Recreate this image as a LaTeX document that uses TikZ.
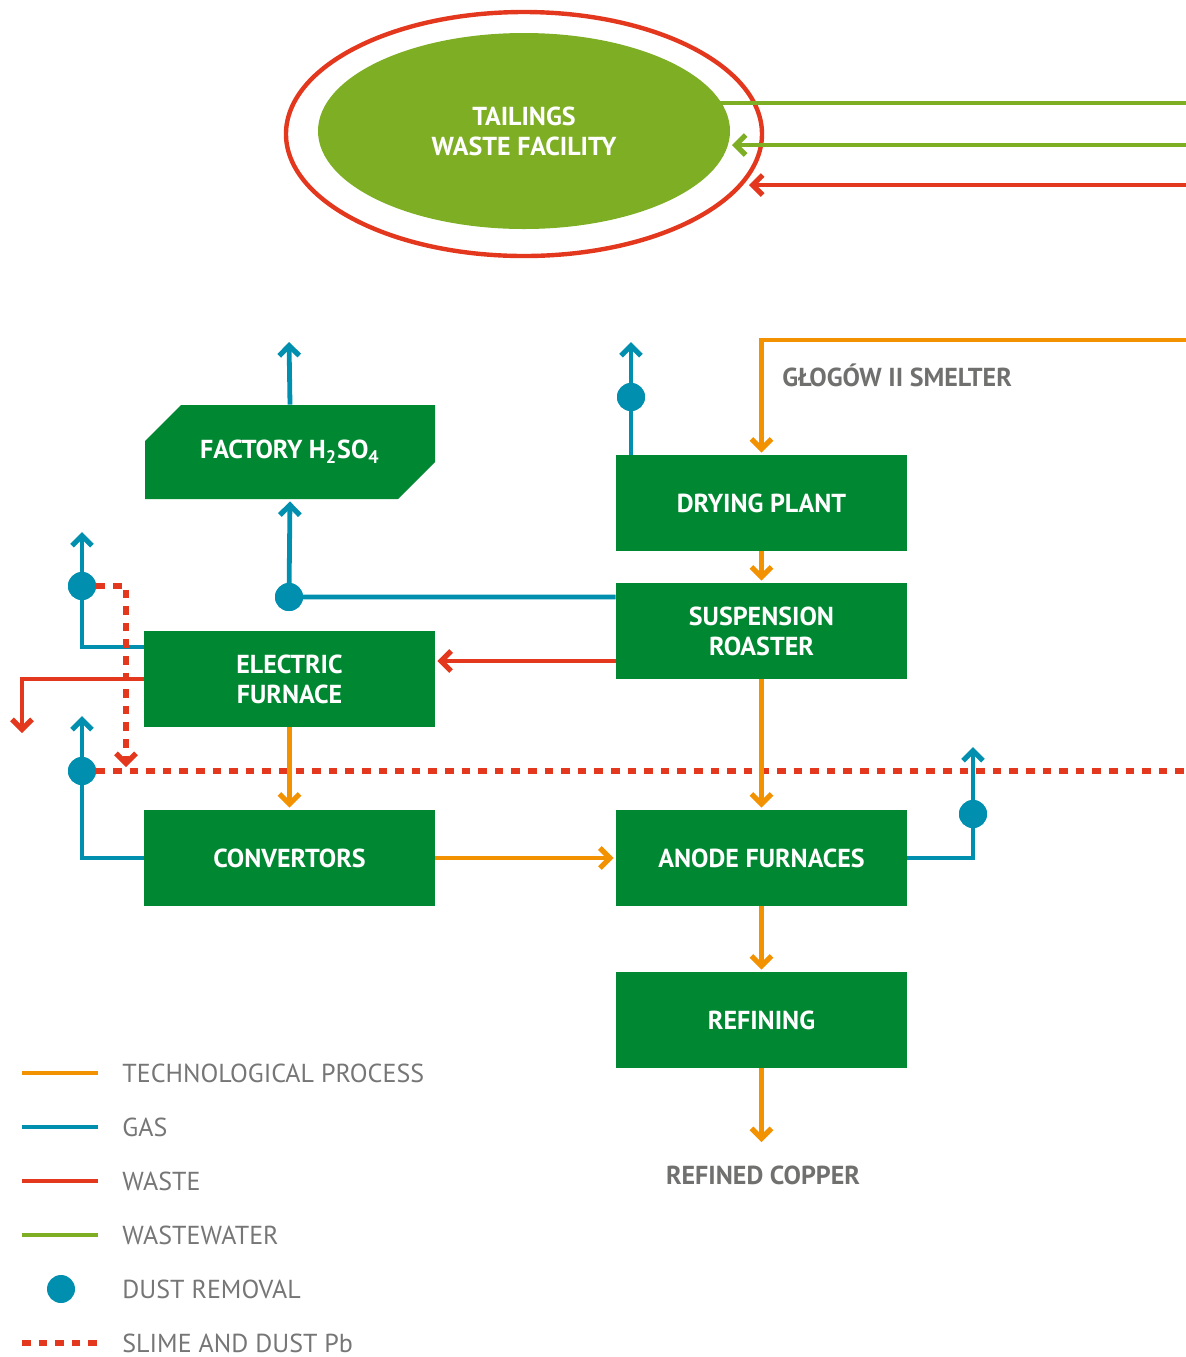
\documentclass[tikz,border=0pt]{standalone}
\usepackage{fontspec}
\setmainfont{PT Sans}
\usetikzlibrary{arrows.meta,calc,positioning,shapes.geometric}
\definecolor{boxgreen}{RGB}{0,135,50}
\definecolor{techorange}{RGB}{243,146,0}
\definecolor{gasblue}{RGB}{0,143,175}
\definecolor{wastered}{RGB}{227,55,30}
\definecolor{watergreen}{RGB}{126,174,36}
\definecolor{labelgray}{RGB}{112,112,111}
\definecolor{legendgray}{RGB}{118,118,118}
\newcommand{\boxfont}{\bfseries\fontsize{13}{15}\selectfont}
\newcommand{\legendfont}{\fontsize{13}{15}\selectfont}
\newcommand{\legendline}[3]{%
  \coordinate (leg#1a) at (22,#1);%
  \coordinate (leg#1b) at (98,#1);%
  \draw[#2] (leg#1a) -- (leg#1b);%
  \node[legtext] (legt#1) at (122,#1) {#3};%
}

\begin{document}
\begin{tikzpicture}[x=0.5pt,y=-0.5pt,
  box/.style={fill=boxgreen,text=white,font=\boxfont,align=center,
    minimum width=145.5pt,minimum height=48pt,inner sep=0pt},
  tip/.style={-{Straight Barb[length=5pt,width=10pt,line width=2.6pt]},shorten >=1pt},
  techline/.style={draw=techorange,line width=2.4pt},
  gasline/.style={draw=gasblue,line width=2.4pt},
  wasteline/.style={draw=wastered,line width=2.4pt},
  waterline/.style={draw=watergreen,line width=2.4pt},
  tech/.style={techline,tip},
  gas/.style={gasline,tip},
  waste/.style={wasteline,tip},
  water/.style={waterline,tip},
  slime/.style={draw=wastered,line width=2.6pt,dash pattern=on 4.3pt off 4pt},
  dust/.style={circle,fill=gasblue,minimum size=14pt,inner sep=0pt},
  graytext/.style={text=labelgray,font=\boxfont,inner sep=0pt},
  legtext/.style={anchor=west,text=legendgray,font=\legendfont,inner sep=0pt}]
  \useasboundingbox (0,0) rectangle (1186,1357);

  % tailings facility
  \node[ellipse,draw=wastered,line width=2.2pt,minimum width=238pt,minimum height=122pt] (ring) at (524,134) {};
  \node[ellipse,fill=watergreen,text=white,font=\boxfont,align=center,
    minimum width=206pt,minimum height=98pt,inner sep=0pt] (tailings) at (524,131) {TAILINGS\\WASTE FACILITY};
  \coordinate (wwa) at (719,103);
  \coordinate (wwb) at (730,145);
  \coordinate (wsb) at (747,185);
  \coordinate (wwout) at (1186,103);
  \coordinate (wwin) at (1186,145);
  \coordinate (wsin) at (1186,185);
  \draw[waterline] (wwa) -- (wwout);
  \draw[water] (wwin) -- (wwb);
  \draw[waste] (wsin) -- (wsb);

  % process boxes
  \fill[boxgreen] (145,441) -- (181,405) -- (435,405) -- (435,462) -- (398,499) -- (145,499) -- cycle;
  \node[text=white,font=\boxfont,minimum width=145pt,minimum height=47pt,inner sep=0pt] (factory) at (290,452) {FACTORY H\textsubscript{2}SO\textsubscript{4}};
  \node[box] (drying) at (761.5,503) {DRYING PLANT};
  \node[box] (roaster) at (761.5,631) {SUSPENSION\\ROASTER};
  \node[box] (furnace) at (289.5,679) {ELECTRIC\\FURNACE};
  \node[box] (conv) at (289.5,858) {CONVERTORS};
  \node[box] (anode) at (761.5,858) {ANODE FURNACES};
  \node[box] (refining) at (761.5,1020) {REFINING};
  \node[graytext,anchor=west] (smeltlbl) at (782,375) {GŁOGÓW II SMELTER};
  \node[graytext] (copper) at (763,1175) {REFINED COPPER};

  % dust removal points
  \node[dust] (dd) at (631,397) {};
  \node[dust] (dr) at (289,597) {};
  \node[dust] (fd) at (82,586) {};
  \node[dust] (cd) at (82,771) {};
  \node[dust] (ad) at (973,814) {};
  \coordinate (smelter) at (1186,340);
  \coordinate (ddout) at (631,340);
  \coordinate (facout) at (289,340);
  \coordinate (fdout) at (82,530);
  \coordinate (fwout) at (22,735);
  \coordinate (cdout) at (82,714);
  \coordinate (adout) at (973,745);
  \coordinate (slimedown) at (126,767);
  \coordinate (slimeend) at (1186,771);
  \coordinate (copperin) at (761.5,1144);

  % furnace side lines, under the slime line
  \draw[gas] ([yshift=16pt]furnace.west) -| (fdout);
  \draw[waste] (furnace.west) -| (fwout);
  \draw[slime,-{Straight Barb[length=5pt,width=10pt,line width=2.6pt]}] (fd) -| (slimedown);
  \draw[slime] (cd) -- (slimeend);

  % technological process
  \draw[tech] (smelter) -| (drying.north);
  \draw[tech] (drying) -- (roaster);
  \draw[tech] (furnace) -- (conv);
  \draw[tech] (conv) -- (anode);
  \draw[tech] (roaster) -- (anode);
  \draw[tech] (anode) -- (refining);
  \draw[tech] (refining) -- (copperin);

  % gas
  \draw[gas] (drying.north -| dd) -- (ddout);
  \draw[gas] (factory.north) -- (facout);
  \draw[gas] (roaster.west |- dr) -- (dr.center) -- (factory.south);
  \draw[gas] (conv.west) -| (cdout);
  \draw[gas] (anode.east) -| (adout);

  % waste
  \draw[waste] ([yshift=-15pt]roaster.west) -- ([yshift=9pt]furnace.east);

  % dots on top
  \foreach \d in {dd,dr,fd,cd,ad} \fill[gasblue] (\d) circle[radius=7pt];

  % legend
  \legendline{1073}{techline}{TECHNOLOGICAL PROCESS}
  \legendline{1127}{gasline}{GAS}
  \legendline{1181}{wasteline}{WASTE}
  \legendline{1235}{waterline}{WASTEWATER}
  \node[dust] (legdust) at (61,1289) {};
  \node[legtext] (legt1289) at (122,1289) {DUST REMOVAL};
  \legendline{1343}{slime}{SLIME AND DUST Pb}
\end{tikzpicture}
\end{document}
